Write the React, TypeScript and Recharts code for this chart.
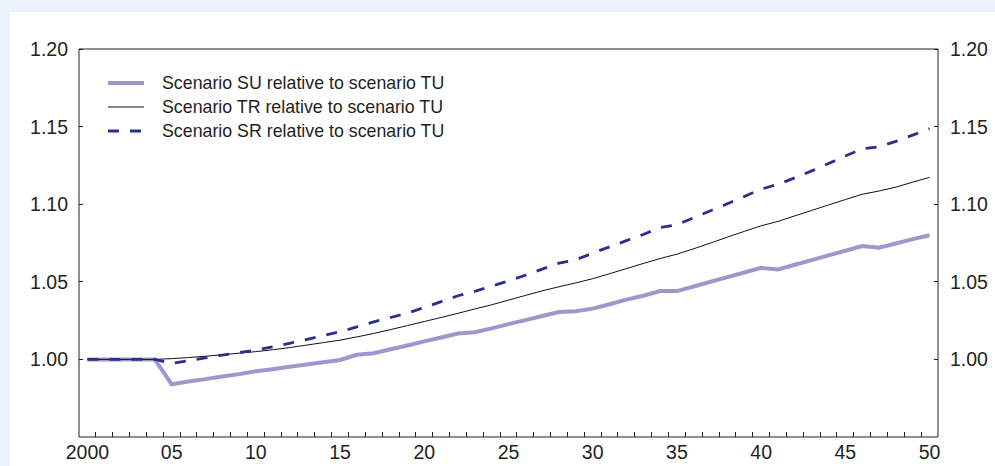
import { LineChart, Line, XAxis, YAxis, ReferenceLine, Legend } from "recharts";

const years = [
    2000, 2001, 2002, 2003, 2004, 2005, 2006, 2007, 2008, 2009,
    2010, 2011, 2012, 2013, 2014, 2015, 2016, 2017, 2018, 2019,
    2020, 2021, 2022, 2023, 2024, 2025, 2026, 2027, 2028, 2029,
    2030, 2031, 2032, 2033, 2034, 2035, 2036, 2037, 2038, 2039,
    2040, 2041, 2042, 2043, 2044, 2045, 2046, 2047, 2048, 2049, 2050,
];

const suValues = [
    1.0, 1.0, 1.0, 1.0, 1.0, 0.984, 0.9857, 0.9873, 0.989, 0.9905,
    0.9923, 0.9937, 0.9952, 0.9967, 0.9982, 0.9996, 1.003, 1.004, 1.0065, 1.009,
    1.0116, 1.0141, 1.0167, 1.0175, 1.02, 1.0227, 1.0253, 1.028, 1.0305, 1.031,
    1.0327, 1.0355, 1.0385, 1.041, 1.044, 1.044, 1.047, 1.05, 1.053, 1.056,
    1.059, 1.058, 1.061, 1.064, 1.067, 1.07, 1.073, 1.072, 1.0747, 1.0775, 1.08,
];

const trValues = [
    1.0, 1.0, 1.0, 1.0, 1.0, 1.0005, 1.0012, 1.002, 1.003, 1.004,
    1.005, 1.0062, 1.0076, 1.0092, 1.0108, 1.0124, 1.0145, 1.0167, 1.0192, 1.0218,
    1.0244, 1.027, 1.0297, 1.0325, 1.0352, 1.0382, 1.0412, 1.0442, 1.0468, 1.0493,
    1.052, 1.0552, 1.0585, 1.0618, 1.065, 1.0678, 1.0713, 1.075, 1.0788, 1.0825,
    1.0861, 1.0889, 1.0925, 1.096, 1.0995, 1.103, 1.1064, 1.1085, 1.111, 1.1142, 1.1173,
];

const srValues = [
    1.0, 1.0, 1.0, 1.0, 1.0, 0.9974, 0.9992, 1.001, 1.0028, 1.0044,
    1.006, 1.0081, 1.0104, 1.0128, 1.0153, 1.0178, 1.021, 1.0242, 1.027, 1.0298,
    1.0334, 1.0372, 1.041, 1.0438, 1.0472, 1.0506, 1.0542, 1.0582, 1.062, 1.0642,
    1.0685, 1.0725, 1.0765, 1.0805, 1.085, 1.0868, 1.0913, 1.0958, 1.1003, 1.105,
    1.1097, 1.1128, 1.117, 1.1215, 1.1262, 1.131, 1.1357, 1.137, 1.1405, 1.1445, 1.1487,
];

const labelYears = [2000, 2005, 2010, 2015, 2020, 2025, 2030, 2035, 2040, 2045, 2050];
const xLabels = ["2000", "05", "10", "15", "20", "25", "30", "35", "40", "45", "50"];
const yTicks = [1.0, 1.05, 1.1, 1.15, 1.2];

const seriesNames = [
    "Scenario SU relative to scenario TU",
    "Scenario TR relative to scenario TU",
    "Scenario SR relative to scenario TU",
];

const data = years.map((year, i) => ({
    year,
    su: suValues[i],
    tr: trValues[i],
    sr: srValues[i],
}));

// minor ticks sit between the years
const minorTicks = years.slice(0, -1).map((y) => y + 0.5);

const FONT = "'Liberation Sans', Arial, Helvetica, sans-serif";
const INK = "#231f20";
const SU_COLOR = "#9c98ce";
const SR_COLOR = "#2b2f8e";
const X_DOMAIN = [1999.5, 2050.5];
const Y_DOMAIN = [0.95, 1.2];

const lineStyles = [
    { stroke: SU_COLOR, width: 4, dash: undefined },
    { stroke: "#111111", width: 1, dash: undefined },
    { stroke: SR_COLOR, width: 2.8, dash: "11 11" },
];

function LegendBox() {
    return (
        <div style={{ fontFamily: FONT, fontSize: 17.8, color: INK }}>
            {seriesNames.map((name, i) => (
                <div key={name} style={{ display: "flex", alignItems: "center", height: 24 }}>
                    <svg width={36} height={10} style={{ marginRight: 18 }}>
                        <line
                            x1={0}
                            x2={36}
                            y1={5}
                            y2={5}
                            stroke={lineStyles[i].stroke}
                            strokeWidth={lineStyles[i].width}
                            strokeDasharray={lineStyles[i].dash}
                        />
                    </svg>
                    <span>{name}</span>
                </div>
            ))}
        </div>
    );
}

const tickFont = { fontSize: 19.5, fontFamily: FONT, fill: INK };
const tickStroke = { stroke: INK, strokeWidth: 1, shapeRendering: "crispEdges" };

export default function App() {
    return (
        <div style={{ position: "fixed", left: 0, top: 0, width: 995, height: 466, background: "#eaf2fc", overflow: "hidden" }}>
            <div style={{ position: "absolute", left: 10, top: 12, width: 985, height: 454, background: "#ffffff" }} />
            <div style={{ position: "absolute", left: 0, top: 0 }}>
                <LineChart width={995} height={466} data={data} margin={{ top: 49, right: 0, bottom: 0, left: 19 }}>
                    {/* axis line and year ticks between the years, pointing up into the plot */}
                    <XAxis
                        xAxisId="a"
                        dataKey="year"
                        type="number"
                        domain={X_DOMAIN}
                        ticks={minorTicks}
                        interval={0}
                        tick={() => <g />}
                        tickSize={-5}
                        tickMargin={0}
                        height={1}
                        axisLine={{ stroke: INK }}
                        tickLine={tickStroke}
                    />
                    {/* labels only */}
                    <XAxis
                        xAxisId="b"
                        dataKey="year"
                        type="number"
                        domain={X_DOMAIN}
                        ticks={labelYears}
                        interval={0}
                        tickLine={false}
                        tickSize={0}
                        tickMargin={7}
                        height={28}
                        axisLine={false}
                        tickFormatter={(v: number) => xLabels[labelYears.indexOf(v)]}
                        tick={tickFont}
                    />
                    <YAxis
                        yAxisId="left"
                        domain={Y_DOMAIN}
                        ticks={yTicks}
                        width={60}
                        tickSize={-4}
                        tickMargin={15}
                        tickFormatter={(v: number) => v.toFixed(2)}
                        axisLine={{ stroke: INK }}
                        tickLine={tickStroke}
                        tick={tickFont}
                    />
                    <YAxis
                        yAxisId="right"
                        orientation="right"
                        domain={Y_DOMAIN}
                        ticks={yTicks}
                        width={57}
                        tickSize={-4}
                        tickMargin={16}
                        tickFormatter={(v: number) => v.toFixed(2)}
                        axisLine={{ stroke: INK }}
                        tickLine={tickStroke}
                        tick={tickFont}
                    />
                    <ReferenceLine xAxisId="b" yAxisId="left" y={1.2} stroke={INK} strokeWidth={1} />
                    <Legend
                        layout="vertical"
                        align="center"
                        verticalAlign="middle"
                        wrapperStyle={{ left: 108, top: 71, width: 420 }}
                        content={<LegendBox />}
                    />
                    <Line
                        xAxisId="a"
                        yAxisId="left"
                        dataKey="su"
                        name={seriesNames[0]}
                        type="linear"
                        stroke={SU_COLOR}
                        strokeWidth={4}
                        dot={false}
                        isAnimationActive={false}
                    />
                    <Line
                        xAxisId="b"
                        yAxisId="left"
                        dataKey="tr"
                        name={seriesNames[1]}
                        type="linear"
                        stroke="#111111"
                        strokeWidth={1}
                        dot={false}
                        isAnimationActive={false}
                    />
                    <Line
                        xAxisId="b"
                        yAxisId="right"
                        dataKey="sr"
                        name={seriesNames[2]}
                        type="linear"
                        stroke={SR_COLOR}
                        strokeWidth={2.8}
                        strokeDasharray="11 11"
                        dot={false}
                        isAnimationActive={false}
                    />
                </LineChart>
            </div>
        </div>
    );
}
